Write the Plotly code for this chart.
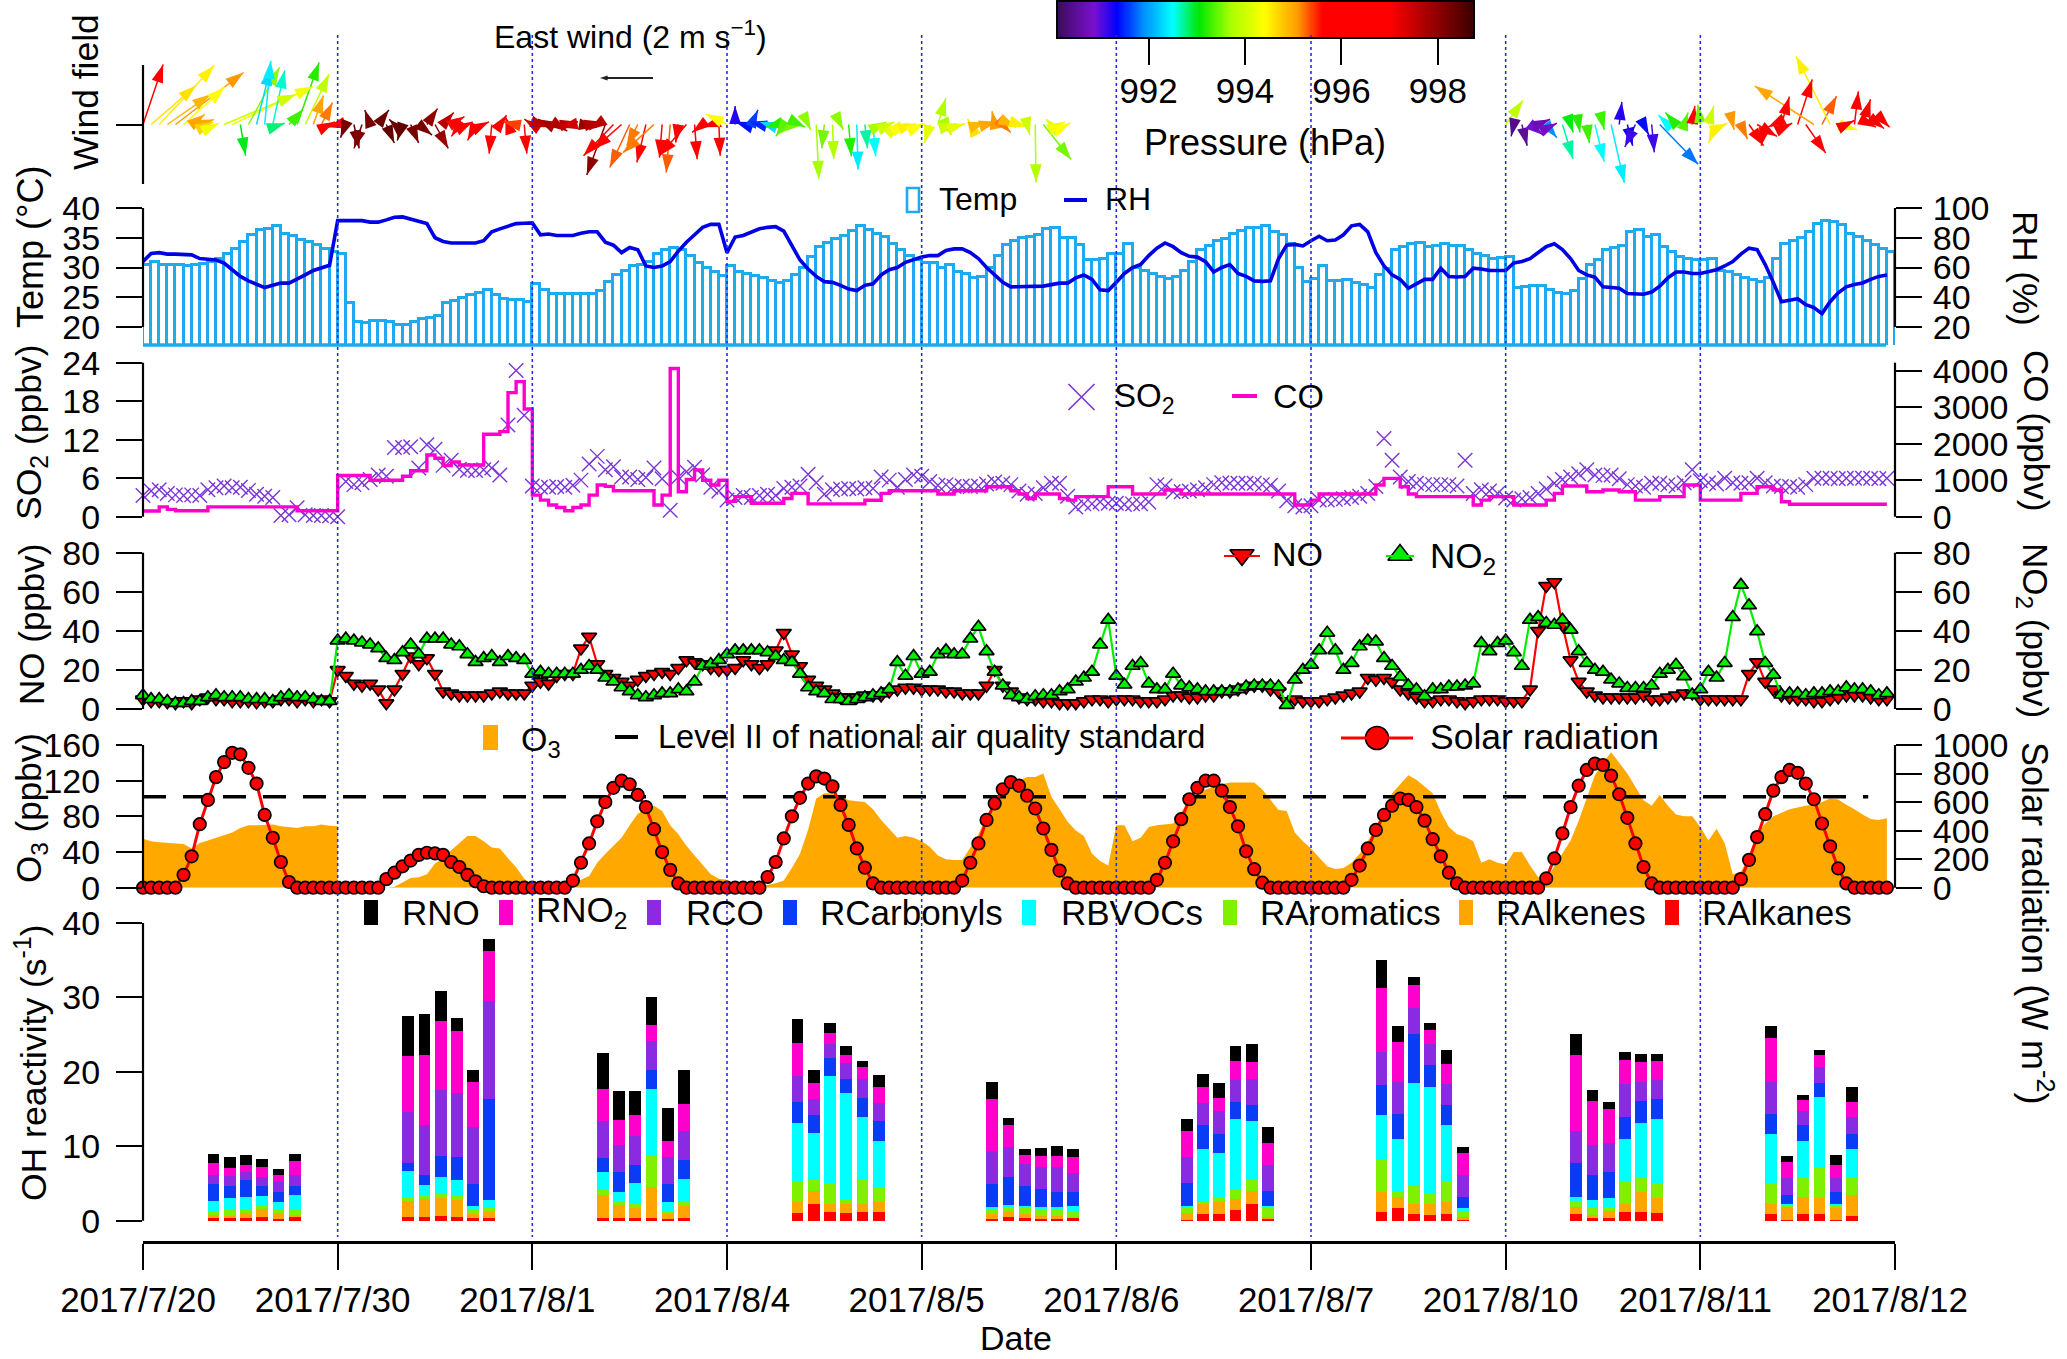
import plotly.graph_objects as go
import numpy as np

W, H = 2067, 1359
FONT = "Liberation Sans"

day_labels = ["2017/7/20", "2017/7/30", "2017/8/1", "2017/8/4", "2017/8/5",
              "2017/8/6", "2017/8/7", "2017/8/10", "2017/8/11", "2017/8/12"]
day_hours = [0, 24, 48, 72, 96, 120, 144, 168, 192, 216]
divider_hours = [24, 48, 72, 96, 120, 144, 168, 192]
hours = list(range(216))

temp_c = [
    30.5,31.0,30.5,30.5,30.5,30.2,30.5,30.6,31.0,31.5,32.2,33.2,34.3,35.5,36.3,36.5,36.9,35.7,35.3,34.7,34.3,33.8,33.2,32.6,
    32.2,24.0,20.9,20.7,21,21,20.8,20.3,20.4,20.9,21.3,21.6,21.8,24,24.4,24.9,25.4,25.7,26.2,25.4,24.8,24.5,24.6,24.3,
    27.3,26.2,25.6,25.5,25.5,25.5,25.5,25.5,26,27.5,28.8,29.5,30.2,30.5,31,32.2,33,33.3,33,32,30.8,30,29.3,28.6,
    30.2,29.2,29,28.6,28.2,27.8,27.4,27.8,28.8,30,31.8,33.4,34.2,34.8,35.3,36.1,36.9,36.3,35.6,35.2,34,33,32,31.2,
    30.8,30.7,30,30.4,29.2,28.9,28.3,28.5,30,32,33.8,34.5,35,35.2,35.4,36.5,36.6,34.9,35,33.8,31.3,31.3,31.5,32.3,
    32.3,34,30,29.5,29,28.5,28.1,28.5,29.5,31,33,33.6,34.5,34.8,35.6,36.2,36.6,36.7,36.9,36,35.5,34,30,27.6,
    28,30.2,27.7,27.8,27.9,27.4,27,26.6,28.7,29.7,33,33.4,34,34.1,33.4,33.6,34,33.6,33.7,33,32.3,31.9,31.4,31.6,
    31.8,26.5,26.7,26.9,26.9,26.3,25.8,25.5,26.1,28,30.5,31.2,32.9,33.3,33.6,36,36.3,35.1,35.5,33.4,32.6,31.8,31.5,31.3,
    31.3,31.4,29.5,29.2,28.7,28.2,27.9,27.6,28.3,31.5,34,34.4,35,36,37.3,37.8,37.6,37.2,35.6,35.1,34.5,33.8,33.1,32.6]

rh_pct = [
    64,69.5,70,69,69,69,68.5,66,65.5,65,63,58.5,54,51,49,46.5,48,49.5,49.5,52,55,58,60,61.5,
    91.5,91.5,91.5,91.5,90.5,90.5,92,93.8,94,92.5,91,89.5,80,77.5,76.5,76.5,76.5,76.5,78,84,86,87.5,89.5,89.7,
    90,82,82.5,81.5,81.5,81.5,83,84,84,77,75,70,73.5,72,61,60,61,64,71,77,82,87,89,89,
    70,80.5,81.5,84,86,87,87.5,84.5,75,65,59,54,50.5,50,48,45.5,44.5,48,49,55,58.5,60,63.5,65.5,
    67,68,68,71.5,72.5,72.5,70,66,60,55,50,47,47,47,47,47.5,48.5,49.5,49.5,53,55,52,45,44.5,
    50,56,60,62,68,73,76.5,74,70,67.5,67,64,57,60,62,56,54,51,50.7,51,66,75,75.5,74.5,
    78,81,78,78.5,82,88,89,84,70,61,55,52,46,49,52,52,59.5,54,53.6,54,59.5,59,58,58,
    58,63,64,66,70,74,76,72,66,58,55,53.5,47,46.5,46,42.5,42,42,43.5,47.5,53,57,57,56,
    56,57,58.5,61,64,69,73,72,62,50,37,38,39,35,33,29,37,43,47,48.5,49.6,52,54,55]

so2_ppbv = [
    3.3,4.0,4.2,3.6,3.4,3.3,3.4,3.3,4.2,4.5,4.8,4.5,4.6,4.1,3.5,3.2,3.0,0.2,0.3,1.4,0.3,0.2,0.2,0.1,
    0,5.5,5,5.3,5.8,6.5,6.3,10.8,10.8,10.9,7.6,11.2,10.5,8,8.8,7.4,7.2,7.2,7.3,7.6,6.5,14.3,22.8,15.8,
    4.8,4.6,4.6,4.7,4.6,4.9,5.7,8.2,9.4,7.3,7.8,6.2,6.2,5.8,6.1,7.6,5.9,1,6.2,7,7.7,6.5,4.6,4,
    2.6,3,3.3,3,3.3,3.5,3.3,4.4,4.6,4.8,6.6,5.3,3.5,4.2,4.3,4.4,4.3,4.5,4.4,6.2,5.7,4.6,5.8,6.5,
    6.3,5.5,4.9,5,4.7,4.8,4.7,4.8,5.1,5.4,5.2,5,4,3.5,3.6,4.5,5.2,5.2,3.2,1.5,2,2,2.3,2.1,
    2.1,1.9,2,2,2.3,5,4.8,3.9,3.9,4,4.2,4.5,5,5.3,5.2,5.2,5.2,5.2,5,4.9,4,2.5,1.7,1.5,
    1.7,2.6,2.6,2.7,2.8,3,3.2,3.6,4.7,12.2,8.8,6.2,5.5,5.2,5,5,5,5,4.8,8.8,3.6,4.2,4,3.6,
    2.9,2.6,2.8,3,3.6,4.3,5.2,5.8,6.2,6.7,7.3,6.5,6.4,6.5,5.9,5,4.8,4.6,5.2,5.2,5,4.8,5.3,7.3,
    5.6,5.3,5.1,6,5.3,5.2,5.3,6,5.3,4.8,4.7,4.7,4.6,5,6,6,6,5.9,6,6,6,6,5.9,6]

co_ppbv = [
    155,155,270,200,165,165,165,165,270,270,270,270,270,270,270,270,270,270,270,165,165,165,165,165,
    1130,1130,1130,1130,1000,1000,1000,1000,1110,1260,1260,1690,1600,1400,1500,1415,1415,1415,2260,2260,2330,3400,3700,2950,
    590,455,320,250,165,250,320,590,870,830,710,710,710,710,710,320,590,4060,685,1020,1280,1000,870,1000,
    420,550,550,370,370,370,370,500,640,640,350,350,350,350,350,350,350,450,450,640,710,710,710,710,
    710,710,620,620,710,710,710,710,820,820,820,710,620,500,620,620,620,500,455,550,550,550,550,820,
    820,820,620,620,620,620,730,730,620,620,620,620,620,620,620,620,620,620,620,620,620,620,320,320,
    455,620,620,620,620,620,620,620,870,1050,1050,820,620,550,550,550,550,550,550,550,320,455,550,550,
    550,320,320,320,320,455,640,840,840,840,685,685,730,730,685,685,455,455,455,550,550,550,870,870,
    455,455,455,455,455,640,640,820,820,730,410,340,340,340,340,340,340,340,340,340,340,340,340,340]

no_ppbv = [
    5,4,4,3.5,3,4,3,5,6,5,5,4,4,4,3.5,4,4,5,5,4,5,4,5,4,
    20,17,13,12,13,10,3,10,18,27,23,26,18,9,8,7,7,7,7,8,9,8,8,8,
    12,14,13,17,18,18,31,37,23,18,16,14,12,15,17,18,19,18,21,25,24,23,21,20,
    20,21,25,23,21,23,30,39,28,22,15,12,10,8,6,6,6,7,7,7,9,10,11,11,
    10,10,10,9,9,8,8,8,12,20,12,9,6,5,5,4,4,3,3,3,4,5,5,4,
    5,5,5,4,4,4,5,7,7,6,6,7,7,9,9,10,11,12,12,10,9,4,5,4,
    4,4,5,6,7,8,9,16,15,16,14,10,8,6,4,4,5,5,4,3,4,5,5,5,
    4,4,4,10,40,63,65,43,25,14,9,7,6,6,6,6,6,7,5,5,6,7,8,8,
    5,5,5,5,5,5,18,24,14,10,7,6,5,5,4,4,5,6,7,7,7,6,5,5]

no2_ppbv = [
    7,5,5,4,3,3,4,4,6,7,6,6,6,5,5,5,4,6,7,6,6,5,4,4,
    35,36,35,34,33,31,26,25,29,33,28,36,36,36,33,32,28,24,26,27,24,27,26,25,
    18,19,18,18,18,18,20,22,20,16,14,11,9,7,6,7,8,8,10,9,14,22,23,25,
    28,30,30,30,30,29,27,25,24,18,11,9,8,5,5,4,5,6,7,8,10,24,17,27,
    18,19,28,30,28,28,36,42,29.5,19,12,7,6,5,6.5,7,7,9,10,14,16,19,33,45.6,
    17,12.4,22,23.5,13,10,10,18,12,11,10,9,9,9,9,10,11.5,12,12,12,11.5,2,15,20,
    22.6,30,39,30,20,23.5,32,35,34.5,26,22,16.5,12,10,6.5,10,10,11.5,11.5,12,13,33.7,29.5,33.7,
    35,29,22,45.6,47,44,43,45.6,40.5,29.5,23.5,20,19,15,13,10.7,10.7,10.7,12,18,20,22.6,16.7,7.3,
    10,19,16,23.5,47,63.5,53,39.7,23.5,17.5,7.3,8,8,7,8,8,9,9,11,10,10,9,7,8]

# ozone: the record breaks at hour 24, so that hour appears twice (sharp edge)
o3_hours = list(range(24)) + [24] + list(range(24, 216))
o3_ppbv = [
    55,52,51,50.5,50,49,44,50,53,56,59,62,67,70,70,70.5,71,69,68,67,69,69,71,69.5,69,
    0,0,0,0,0,0,0,1,6,11,11.6,15,27,33,42,50,58,58,52,45,44,33,23,10,
    3,0,0,0,0,3,9,13,28,38,47,56,70,83,88,92,86,70,60,47,36,26,15,10,
    9,3,3,3,3,3,5,8,22,38,65,100,106,106,103,98,97,96,88,76,66,56,58,56,
    52,46,36,32,31,31,45,60,80,95,110,115,120,124,124,128,102,88,74,64,58,38,30,25,
    70,70,52,56,68,70,71,72,85,97,104,110,113,116,118,118,118,118,110,98,87,86,62,52,
    44,34,24,21,22,28,38,52,68,88,106,116,126,121,114,106,85,68,60,57,52,28,32,28,
    26,40,40,25,12,9,24,38,53,75,100,126,140,152,140,128,113,98,92,104,92,82,80,80,
    68,53,66,50,15,18,35,61,72,80,84,88,90,92,93,96,100,99,93,88,82,77,76,78]

solar_wm2 = [
    0,0,0,0,0,90,220,445,615,775,880,945,935,840,730,510,350,180,40,0,0,0,0,0,
    0,0,0,0,0,0,60,105,150,190,230,245,240,230,180,145,90,45,10,0,0,0,0,0,
    0,0,0,0,0,50,175,310,465,600,700,750,725,650,565,410,250,125,30,0,0,0,0,0,
    0,0,0,0,0,75,180,345,500,630,730,780,765,710,580,440,275,140,30,0,0,0,0,0,
    0,0,0,0,0,50,175,310,475,590,690,740,715,645,555,415,265,120,30,0,0,0,0,0,
    0,0,0,0,0,55,175,325,480,620,700,750,750,680,565,430,255,130,35,0,0,0,0,0,
    0,0,0,0,0,55,155,275,405,510,575,625,615,565,470,340,220,105,30,0,0,0,0,0,
    0,0,0,0,0,65,205,380,565,715,825,870,860,785,655,490,310,145,30,0,0,0,0,0,
    0,0,0,0,0,60,195,355,515,680,775,825,805,730,620,450,290,135,30,0,0,0,0,0]

level2_hours = [0, 212.7]
level2_ppbv = [102, 102]

# wind components (m/s) and pressure (hPa); None where no arrow is drawn
wind_u = [
    .76,1.7,2.08,1.62,2.57,1.55,.49,.53,.2,.1,2.7,3.05,.2,1.17,.53,.23,.45,.15,.53,.83,.9,.38,.42,.2,
    -.4,-.2,.2,-.3,-.2,.4,.3,-.2,-.2,.3,.5,.4,.5,.4,.5,-.3,.2,-.3,.2,-.1,.25,-.1,-.5,.1,
    -.3,.3,-.4,.4,.5,-.5,.6,.5,-.3,-.7,-1.13,-1.06,-.75,-.42,-.34,-1.17,-.1,-.15,-.1,-1.02,.1,-.4,-.3,.05,
    -.8,0,-.3,.25,-.4,-.3,-.4,-.3,-.4,.2,.1,.1,-.1,.05,.1,.1,.05,.1,.1,.2,.2,.1,.1,.1,
    .1,-.2,.3,.2,.1,.1,-.1,.3,.4,-.1,.3,.2,.3,.1,.03,1.05,-.2,.2,.1,None,None,None,None,None,
    None,None,None,None,None,None,None,None,None,None,None,None,None,None,None,None,None,None,None,None,None,None,None,None,
    None,None,None,None,None,None,None,None,None,None,None,None,None,None,None,None,None,None,None,None,None,None,None,None,
    .65,-.1,.2,.5,.45,.4,.1,.4,.1,.05,.1,.35,.05,.5,.1,.2,-.4,.2,.1,1.45,-.35,-.4,.15,.1,
    -.1,.2,-.3,.1,.05,.25,.55,.75,-.15,-.2,.3,.1,.55,.75,-2.23,.55,-1.28,.7,.3,.15,.3,.2,.2,.1]
wind_v = [
    2.26,1.47,2.22,1.13,1.96,1.4,.38,.19,.1,.05,1.13,1.43,-1.17,2.15,2.15,2.4,2.04,.05,.57,2.34,1.89,1.09,.83,.1,
    -.1,-.5,-.9,-.9,.55,.55,-.7,.2,-.6,-.7,-.4,.6,-.9,.45,.3,-.45,.1,-.6,.1,-1.1,.35,.3,.1,-1.1,
    .2,-.1,.2,-.25,.1,-.1,-.1,.1,-.2,-1.9,-1.18,-.93,-1.62,-.8,-1.43,-1.06,-1.25,-1.81,-.68,-1.18,-1.31,-.3,-.1,-1.18,
    .4,.7,.1,.55,.1,.1,-.1,-.45,-.3,-.1,-.2,-2.05,-.9,-1.3,-.2,-1.2,-1.7,-.9,-1.2,.1,.1,.1,.05,.03,
    .05,-.7,1,-.4,.03,.03,.2,.1,.1,.5,-.3,-.1,-.1,-.4,-2.18,-1.32,.2,.1,.05,None,None,None,None,None,
    None,None,None,None,None,None,None,None,None,None,None,None,None,None,None,None,None,None,None,None,None,None,None,None,
    None,None,None,None,None,None,None,None,None,None,None,None,None,None,None,None,None,None,None,None,None,None,None,None,
    .9,-.45,-.8,-.4,.2,-.5,.05,-1.3,-.3,-.3,-.7,-1.4,-.2,-2.2,.85,-.8,-.85,-.4,-1.05,-1.5,.35,.45,.45,.7,
    .75,.7,-.7,.05,-.2,-.55,-.8,-.45,-.8,-.1,1.05,.05,1.7,-1.07,1.45,1.07,2.57,-.2,.15,1.25,.95,-.1,-.15,-.1]
pressure_hpa = [
    995.8,994.6,994.5,994.9,995.1,994.4,995,995,994.7,994.3,994,994.3,993,993.6,992.3,992.4,992.6,992.8,993.3,993.2,993.9,995,995.2,995.8,
    996.5,998.2,998.3,998.1,998.2,998.3,998.4,998.3,998.4,998.2,998.2,998,997.9,997.6,997,996.6,996.5,996.4,996.6,996.5,996.6,996.8,995.4,996.7,
    997.4,997.6,997.8,997.7,997.6,997.4,997.9,997.7,997.6,998,997,996.5,995.3,995.2,995.6,995.2,996,995.3,996,996.2,996.1,996,995.9,996.3,
    994.4,991.2,991.4,991.6,991.5,992.3,993.2,993.4,993.5,993.3,993.6,993.7,993.5,993.8,993.6,993.2,992.4,992.7,992.5,993.7,994,994.2,994.4,994.5,
    994.4,994.2,993.8,993.7,994,994.2,994.6,994.9,995,995.1,995.2,994.9,994.5,994,993.8,993.5,994.1,994.3,994.4,None,None,None,None,None,
    None,None,None,None,None,None,None,None,None,None,None,None,None,None,None,None,None,None,None,None,None,None,None,None,
    None,None,None,None,None,None,None,None,None,None,None,None,None,None,None,None,None,None,None,None,None,None,None,None,
    993.9,990.4,990.5,990.9,990.7,991.9,990.8,992.7,993,993.2,993.3,992.5,993.3,992.4,991.2,991.3,991.1,991.4,991.1,991.8,992.5,993.2,993.4,996,
    993.5,994,994.5,994.5,995.1,995.2,996,996.1,996.2,996,996,996,996,995.6,995,995.3,994.5,994.3,996.1,996.2,996.3,996,996,996]

pressure_ticks = [992, 994, 996, 998]

# OH reactivity: top of each stack layer (s-1), six samples per day
sample_hours = [8.7, 10.7, 12.7, 14.7, 16.7, 18.7]
top_RAlkanes = [.3,.3,.3,.5,.2,.5, .5,.5,.6,.5,.3,.4, .4,.4,.4,.3,.2,.3, 1,2.2,1.2,1,1.1,1.1, .2,.5,.4,.2,.2,.4,
                .1,.9,.9,1.4,2.2,.2, 1.1,1.7,.9,.8,.9,.1, .9,.3,.4,1.1,1.1,1, .9,.1,.9,.9,.1,.6]
top_RAlkenes = [.7,.6,1,1.6,1,.7, 2.7,2.9,3,2.8,.9,1.2, 3.5,2.1,1.7,4.5,.9,2, 2.5,4,2.2,2.2,2.2,2.5, .9,1.1,.9,.6,.6,.5,
                1,2.2,2.5,2.9,4,.5, 3.8,3.2,2.2,2.2,2.5,.5, 1.9,.8,1.3,2.2,3.8,3, 2.2,1.9,3.2,3,1.7,3.4]
top_RAromatics = [1.3,1.4,1.6,2.1,1.4,1.5, 3.2,3.5,3.6,3.4,1.5,1.7, 4.1,2.6,2.3,8.8,1.3,2.6, 5.2,5.5,5,2.8,5.5,4.5, 1.5,1.8,1.7,1.4,1.4,1.2,
                  1.7,2.7,3.1,4.2,5.6,1.7, 8.25,4,4.6,3.7,5.3,1.3, 2.6,1.7,1.8,5.3,5.8,5, 5,2,5.8,7.2,2.2,5.8]
top_RBVOCs = [2.7,3,3.2,3.3,2.5,3.5, 6.7,4.8,5.9,5.4,2,2.8, 6.5,3.8,5,17.7,2.5,5.6, 13.1,11.8,19.4,17.2,13.9,10.7, 1.9,2.1,2,1.8,1.8,2,
              2,9.6,9.1,13.7,13.4,2, 14.2,11,18.5,17.9,12.8,1.7, 3.2,2.8,3,11,13.1,13.6, 11.7,2.3,10.7,16.6,2.3,9.6]
top_RCarbonyls = [4.9,4.6,5.4,4.6,3.8,4.6, 7.8,6.1,8.7,8.6,4.9,16.4, 8.4,6.5,7.5,20.2,4.9,8.1, 15.9,14.2,21.8,19.1,16.5,13.4, 4.9,5.9,4.7,4.3,3.8,3.8,
                  5.1,12.9,11.7,16,15.5,4, 18.2,14.4,25.1,20.9,15.5,3.2, 7.8,6.1,6.5,13.9,16.1,16.3, 14.4,3.5,12.9,18.5,3.8,11.7]
top_RCO = [6.2,6,6.6,5.9,5.2,6.1, 14.6,12.9,17.5,17.1,12.6,29.5, 13.4,10.2,11.4,24.1,8.6,12, 19.4,16.3,23.7,21.2,19,15.8, 9.4,9.9,7.6,7.2,7.2,6.4,
           8.5,15.8,14.7,18.9,19,7.5, 22.7,18.7,28.6,23.7,18.4,6.1, 12.1,10.2,10.4,18.4,18.7,18.9, 18.7,5.8,14.7,20.6,5.7,13.9]
top_RNO2 = [7.7,7.1,7.5,7.2,6.2,8, 22.1,22.2,26.8,25.5,18.7,36.3, 17.7,13.5,14.2,26.3,10.7,15.7, 23.9,18.5,25.2,22.2,20.6,18, 16.3,12.9,8.8,8.7,8.7,8.5,
            12,17.9,16.5,21.4,21.3,10.4, 31.3,24,31.7,25.6,21.1,9.1, 22.2,16.1,15,21.6,21.3,21.5, 24.5,7.9,16.2,22.2,7.5,16]
top_RNO = [9,8.5,8.8,8.3,7,9, 27.5,27.8,30.8,27.3,20.3,37.9, 22.5,17.4,17.4,30,15.2,20.3, 27.1,20.3,26.5,23.5,21.5,19.6, 18.7,13.8,9.6,9.7,10.1,9.6,
           13.6,19.7,18.5,23.5,23.8,12.6, 35,26.1,32.7,26.6,23,9.9, 25.1,17.6,16,22.6,22.4,22.4, 26.1,8.7,16.9,22.9,8.8,17.9]

# ---------- helpers ----------
def fx(px): return px / W
def fy(py): return 1 - py / H

L_PX, R_PX = 143, 1895
BLUE_T, BLUE_L = "#1FA9EE", "#0000E6"
MAG, VIO = "#FF00CC", "#7A35D8"
ORG = "#FFA800"

PSTOPS = [(990.1, "#3b0a5a"), (990.87, "#7a10d0"), (991.35, "#0000ff"), (991.9, "#0090ff"),
          (992.5, "#00ffff"), (993.05, "#00e800"), (993.7, "#a8ff00"), (994.4, "#ffff00"),
          (995.1, "#ff9900"), (995.6, "#ff0000"), (997.0, "#ff0000"), (998.75, "#3a0000")]

def hex2rgb(h): return [int(h[i:i+2], 16) for i in (1, 3, 5)]
def pcolor(p):
    ps = [s[0] for s in PSTOPS]
    rgb = [np.interp(p, ps, [hex2rgb(s[1])[k] for s in PSTOPS]) for k in range(3)]
    return "rgb(%d,%d,%d)" % tuple(int(c) for c in rgb)

fig = go.Figure()

def yax(top, bottom, rng, ticks=None, side="left", overlay=None):
    d = dict(domain=[fy(bottom), fy(top)], range=rng, anchor="x", side=side, showgrid=False,
             zeroline=False, showline=False, ticks="outside", ticklen=26, tickwidth=2,
             tickcolor="black", ticklabelstandoff=(9 if side == "left" else 4), automargin=False,
             tickfont=dict(family=FONT, size=34, color="black"))
    if ticks is not None:
        d.update(tickmode="array", tickvals=ticks, ticktext=[str(t) for t in ticks])
    if overlay:
        d["overlaying"] = overlay
    return d

layout_axes = dict(
    xaxis=dict(domain=[fx(L_PX), fx(R_PX)], range=[0, 216], anchor="y", showgrid=False, zeroline=False,
               showline=True, linecolor="black", linewidth=3, ticks="outside", ticklen=26, tickwidth=2,
               tickcolor="black", tickmode="array", tickvals=day_hours, ticktext=day_labels,
               ticklabelstandoff=0, ticklabelshift=-5, automargin=False,
               tickfont=dict(family=FONT, size=35, color="black")),
    yaxis=yax(923, 1240.7, [-2.69, 40], [0, 10, 20, 30, 40]),
    yaxis2=yax(44.9, 204.1, [-3, 3], [0]),
    yaxis3=yax(208, 345, [17, 40], [20, 25, 30, 35, 40]),
    yaxis4=yax(208, 345, [7.9, 100], [20, 40, 60, 80, 100], "right", "y3"),
    yaxis5=yax(362.7, 516.7, [0, 24], [0, 6, 12, 18, 24]),
    yaxis6=yax(362.7, 516.7, [0, 4219], [0, 1000, 2000, 3000, 4000], "right", "y5"),
    yaxis7=yax(552.7, 709, [0, 80], [0, 20, 40, 60, 80]),
    yaxis8=yax(552.7, 709, [0, 80], [0, 20, 40, 60, 80], "right", "y7"),
    yaxis9=yax(745, 887.7, [0, 160], [0, 40, 80, 120, 160]),
    yaxis10=yax(745, 887.7, [0, 1000], [0, 200, 400, 600, 800, 1000], "right", "y9"),
    # pressure colour ramp
    xaxis2=dict(domain=[fx(1057), fx(1474)], range=[990.1, 998.75], anchor="y11", showgrid=False,
                zeroline=False, ticks="outside", ticklen=26, tickwidth=2, tickcolor="black",
                tickmode="array", tickvals=pressure_ticks, ticktext=[str(t) for t in pressure_ticks],
                ticklabelstandoff=-4, automargin=False, tickfont=dict(family=FONT, size=35, color="black")),
    yaxis11=dict(domain=[fy(38), fy(1)], range=[0, 1], anchor="x2", visible=False, automargin=False),
    # hidden canvas for legend keys
    xaxis3=dict(domain=[0, 1], range=[0, W], anchor="y12", visible=False, automargin=False),
    yaxis12=dict(domain=[0, 1], range=[H, 0], anchor="x3", visible=False, automargin=False),
)
# only one left tick on the wind panel, with no label
layout_axes["yaxis2"]["showticklabels"] = False

# ---------- traces ----------
fig.add_trace(go.Bar(x=hours, y=temp_c, xaxis="x", yaxis="y3", width=1, offset=0,
                     marker=dict(color="rgba(0,0,0,0)", line=dict(color=BLUE_T, width=2.6))))
fig.add_trace(go.Scatter(x=hours, y=rh_pct, xaxis="x", yaxis="y4", mode="lines",
                         line=dict(color=BLUE_L, width=3.6), cliponaxis=False))

fig.add_trace(go.Scatter(x=hours, y=so2_ppbv, xaxis="x", yaxis="y5", mode="markers", cliponaxis=False,
                         marker=dict(symbol="x-thin", size=14.5, line=dict(color=VIO, width=1.4))))
fig.add_trace(go.Scatter(x=hours, y=co_ppbv, xaxis="x", yaxis="y6", mode="lines", cliponaxis=False,
                         line=dict(color=MAG, width=3.4, shape="hv")))

fig.add_trace(go.Scatter(x=hours, y=no_ppbv, xaxis="x", yaxis="y7", mode="lines+markers", cliponaxis=False,
                         line=dict(color="#FF0000", width=2.2),
                         marker=dict(symbol="triangle-down", size=13, color="#FF0000",
                                     line=dict(color="black", width=1.7))))
fig.add_trace(go.Scatter(x=hours, y=no2_ppbv, xaxis="x", yaxis="y8", mode="lines+markers", cliponaxis=False,
                         line=dict(color="#00EE00", width=2.2),
                         marker=dict(symbol="triangle-up", size=13, color="#00EE00",
                                     line=dict(color="black", width=1.7))))

fig.add_trace(go.Scatter(x=o3_hours, y=o3_ppbv, xaxis="x", yaxis="y9", mode="lines",
                         line=dict(color=ORG, width=0), fill="tozeroy", fillcolor=ORG))
fig.add_trace(go.Scatter(x=level2_hours, y=level2_ppbv, xaxis="x", yaxis="y9", mode="lines",
                         line=dict(color="black", width=3.6, dash="23px,17px")))
fig.add_trace(go.Scatter(x=hours, y=solar_wm2, xaxis="x", yaxis="y10", mode="lines+markers", cliponaxis=False,
                         line=dict(color="#FF0000", width=3),
                         marker=dict(symbol="circle", size=12.5, color="#FF0000",
                                     line=dict(color="black", width=1.7))))

bar_x = [24 * d + h for d in range(9) for h in sample_hours]
stack = [("RAlkanes", top_RAlkanes, "#FF0000"), ("RAlkenes", top_RAlkenes, "#FFA500"),
         ("RAromatics", top_RAromatics, "#80F000"), ("RBVOCs", top_RBVOCs, "#00FFFF"),
         ("RCarbonyls", top_RCarbonyls, "#0A3CF5"), ("RCO", top_RCO, "#8A2BE2"),
         ("RNO2", top_RNO2, "#FF00CC"), ("RNO", top_RNO, "#000000")]
prev = np.zeros(54)
for name, tops, col in stack:
    tops = np.array(tops, float)
    fig.add_trace(go.Bar(x=bar_x, y=tops - prev, name=name, xaxis="x", yaxis="y", width=1.45,
                         marker=dict(color=col, line=dict(width=0))))
    prev = tops

ramp = np.linspace(990.1, 998.75, 400)
fig.add_trace(go.Heatmap(x=ramp, y=[0, 1], z=[ramp, ramp], xaxis="x2", yaxis="y11", showscale=False,
                         zmin=990.1, zmax=998.75,
                         colorscale=[[(p - 990.1) / (998.75 - 990.1), c] for p, c in PSTOPS]))

# wind arrows: a shaft per hour coloured by pressure, then narrow heads at the tips
M_PER_S_H = 26.5 / (1752 / 216)   # hours of x-axis per m/s so arrows keep true direction
head_x, head_y, head_angle, head_col = [], [], [], []
for h, u, v, p in zip(hours, wind_u, wind_v, pressure_hpa):
    if u is None:
        continue
    tip = h + u * M_PER_S_H
    fig.add_trace(go.Scatter(x=[h, tip], y=[0, v], xaxis="x", yaxis="y2", mode="lines", cliponaxis=False,
                             line=dict(color=pcolor(p), width=1.5), hoverinfo="skip"))
    head_x.append(tip)
    head_y.append(v)
    head_angle.append(float(np.degrees(np.arctan2(u, v))))
    head_col.append(pcolor(p))
fig.add_trace(go.Scatter(x=head_x, y=head_y, xaxis="x", yaxis="y2", mode="markers", cliponaxis=False,
                         marker=dict(symbol="arrow", size=19, angle=head_angle, color=head_col,
                                     line=dict(width=0))))

# legend key glyphs on the hidden canvas
def key(x, y, symbol, size, color, lc="black", lw=1.6, angle=0):
    fig.add_trace(go.Scatter(x=[x], y=[y], xaxis="x3", yaxis="y12", mode="markers", cliponaxis=False,
                             marker=dict(symbol=symbol, size=size, color=color, angle=angle,
                                         line=dict(color=lc, width=lw))))
key(1081.5, 397, "x-thin", 26, VIO, VIO, 1.6)
key(1242, 555, "triangle-down", 21, "#FF0000")
key(1400, 555, "triangle-up", 21, "#00EE00")
key(1377, 738, "circle", 23, "#FF0000")
key(600, 78, "arrow", 8, "#222222", "#222222", 0, -90)

# ---------- annotations ----------
ann = []
def text(px, py, s, size=32, anchor="left", angle=0):
    ann.append(dict(xref="paper", yref="paper", x=fx(px), y=fy(py), text=s, showarrow=False,
                    xanchor=anchor, yanchor="middle", textangle=angle,
                    font=dict(family=FONT, size=size, color="black")))

text(630, 35, "East wind (2 m s<sup>−1</sup>)", 32, "center")
text(1265, 142, "Pressure (hPa)", 36, "center")
text(86, 92, "Wind field", 35.5, "center", -90)
text(31, 247, "Temp (°C)", 36, "center", -90)
text(31, 432, "SO<sub>2</sub> (ppbv)", 35.5, "center", -90)
text(31, 625, "NO (ppbv)", 35, "center", -90)
text(31, 808, "O<sub>3</sub> (ppbv)", 35, "center", -90)
text(31, 1063, "OH reactivity (s<sup>-1</sup>)", 35.5, "center", -90)
text(2026, 268, "RH (%)", 35, "center", 90)
text(2037, 430, "CO (ppbv)", 35, "center", 90)
text(2033, 630, "NO<sub>2</sub> (ppbv)", 35, "center", 90)
text(2037, 923, "Solar radiation (W m<sup>-2</sup>)", 36, "center", 90)
text(1016, 1338, "Date", 34, "center")

text(937, 199, "Temp", 32)
text(1103, 199, "RH", 32)
text(1112, 398, "SO<sub>2</sub>", 33)
text(1271, 396, "CO", 34)
text(1270, 554, "NO", 34)
text(1428, 558, "NO<sub>2</sub>", 35)
text(519, 741, "O<sub>3</sub>", 34)
text(656, 737, "Level II of national air quality standard", 32.5)
text(1428, 737, "Solar radiation", 35.5)
legend_bars = [("RNO", 371, 400, "#000000"), ("RNO<sub>2</sub>", 506, 534, "#FF00CC"), ("RCO", 654, 684, "#8A2BE2"),
               ("RCarbonyls", 790, 818, "#0A3CF5"), ("RBVOCs", 1029, 1059, "#00FFFF"),
               ("RAromatics", 1230, 1258, "#80F000"), ("RAlkenes", 1466, 1494, "#FFA500"),
               ("RAlkanes", 1672, 1700, "#FF0000")]
for s, sx, tx, col in legend_bars:
    text(tx, 912, s, 35)

# ---------- shapes ----------
shapes = []
def pline(x0, y0, x1, y1, color="black", width=2.2, dash=None):
    shapes.append(dict(type="line", xref="paper", yref="paper", x0=fx(x0), y0=fy(y0), x1=fx(x1), y1=fy(y1),
                       line=dict(color=color, width=width, dash=dash or "solid")))
def prect(x0, y0, x1, y1, fill=None, color=None, width=0):
    shapes.append(dict(type="rect", xref="paper", yref="paper", x0=fx(x0), y0=fy(y0), x1=fx(x1), y1=fy(y1),
                       fillcolor=fill or "rgba(0,0,0,0)", line=dict(color=color or "rgba(0,0,0,0)", width=width)))

for h in divider_hours:
    shapes.append(dict(type="line", xref="x", yref="paper", x0=h, x1=h, y0=fy(35), y1=fy(1237), layer="above",
                       line=dict(color="#2A2AEE", width=1.6, dash="3px,3px")))

# R-style axis lines that stop at the outer ticks
pline(L_PX, 65, L_PX, 184)
pline(L_PX, 208, L_PX, 327)
pline(L_PX, 362.7, L_PX, 516.7)
pline(L_PX, 552.7, L_PX, 709)
pline(L_PX, 745, L_PX, 887.7)
pline(L_PX, 923, L_PX, 1220.7)
pline(R_PX, 208, R_PX, 327)
pline(R_PX, 362.7, R_PX, 516.7)
pline(R_PX, 552.7, R_PX, 709)
pline(R_PX, 745, R_PX, 887.7)
pline(L_PX, 345, 1886, 345, BLUE_T, 3.4)   # closes the temperature columns

prect(1057, 1, 1474, 38, None, "black", 2)

# legend keys
pline(605, 78, 653, 78, "#222222", 1.8)
prect(907, 188, 919, 212, None, BLUE_T, 2.6)
pline(1064, 200, 1087, 200, BLUE_L, 4)
pline(1232, 396, 1257, 396, MAG, 4)
pline(1224, 556, 1260, 556, "#FF0000", 2.2)
pline(1386, 556, 1414, 556, "#00EE00", 2.2)
prect(483, 725, 498, 750, ORG)
pline(615, 737, 638, 737, "black", 4)
pline(1341, 738, 1413, 738, "#FF0000", 3)
for s, sx, tx, col in legend_bars:
    prect(sx - 7, 900, sx + 7, 925, col)

fig.update_layout(
    width=W, height=H, margin=dict(l=0, r=0, t=0, b=0, autoexpand=False), paper_bgcolor="white",
    plot_bgcolor="rgba(0,0,0,0)",
    showlegend=False, barmode="stack", bargap=0, annotations=ann, shapes=shapes,
    font=dict(family=FONT, color="black"), **layout_axes)

assert all(len(a) == 216 for a in [temp_c, rh_pct, so2_ppbv, co_ppbv, no_ppbv, no2_ppbv, solar_wm2,
                                   wind_u, wind_v, pressure_hpa]) and len(o3_ppbv) == len(o3_hours)

fig.write_html("out.html", config={"displayModeBar": False},
               post_script="document.body.style.margin='0';document.body.style.overflow='hidden';")
